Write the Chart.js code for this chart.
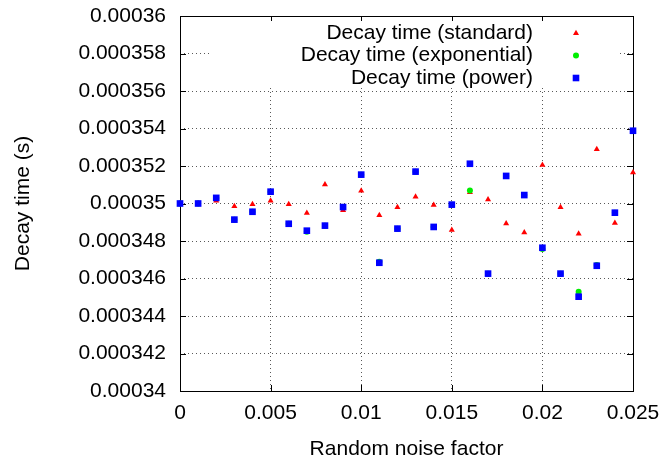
<!DOCTYPE html>
<html>
  <head>
    <meta charset="utf-8" />
    <title>Decay time vs random noise factor</title>
    <script src="https://cdn.jsdelivr.net/npm/chart.js@4"></script>
    <style>
      body { margin: 0; background: #fff; }
    </style>
  </head>
  <body>
    <div style="width: 667px; height: 464px">
      <canvas id="decayCanvas" width="667" height="464"></canvas>
    </div>
    <script>
      // noise factor on the x axis
      const noise = [
        0, 0.001, 0.002, 0.003, 0.004, 0.005, 0.006, 0.007, 0.008, 0.009,
        0.01, 0.011, 0.012, 0.013, 0.014, 0.015, 0.016, 0.017, 0.018, 0.019,
        0.02, 0.021, 0.022, 0.023, 0.024, 0.025,
      ];
      const standardDecay = [
        0.00035, 0.00035, 0.00035015, 0.00034985, 0.00034996, 0.00035015,
        0.00034996, 0.00034949, 0.00035102, 0.00034964, 0.00035068, 0.00034937,
        0.0003498, 0.00035036, 0.00034992, 0.00034859, 0.0003506, 0.00035022,
        0.00034894, 0.00034846, 0.00035205, 0.0003498, 0.00034839, 0.00035289,
        0.00034896, 0.00035166,
      ];
      const exponentialDecay = [
        0.00035, 0.00035, 0.0003503, 0.00034914, 0.00034956, 0.00035063,
        0.00034892, 0.0003485, 0.00034882, 0.00034981, 0.00035154, 0.0003469,
        0.00034866, 0.0003517, 0.00034875, 0.00034994, 0.0003507, 0.00034626,
        0.00035147, 0.00035045, 0.00034758, 0.00034626, 0.0003453, 0.00034672,
        0.00034951, 0.00035388,
      ];
      const powerDecay = [
        0.00035, 0.00035, 0.0003503, 0.00034914, 0.00034956, 0.00035063,
        0.00034892, 0.00034855, 0.00034882, 0.00034981, 0.00035154, 0.00034684,
        0.00034866, 0.0003517, 0.00034875, 0.00034994, 0.00035212, 0.00034626,
        0.00035147, 0.00035045, 0.00034764, 0.00034626, 0.00034503, 0.00034668,
        0.00034951, 0.00035388,
      ];
      const seriesLabels = [
        "Decay time (standard)",
        "Decay time (exponential)",
        "Decay time (power)",
      ];

      const FONT = "'Liberation Sans', Arial, Helvetica, sans-serif";

      function toPoints(ys) {
        return noise.map((x, i) => ({ x: x, y: ys[i] }));
      }

      function fmt(v) {
        return String(parseFloat(v.toPrecision(6)));
      }

      function drawMarker(ctx, style, x, y, color) {
        ctx.fillStyle = color;
        ctx.beginPath();
        if (style === "triangle") {
          ctx.moveTo(x, y - 3.2);
          ctx.lineTo(x + 3, y + 2);
          ctx.lineTo(x - 3, y + 2);
        } else if (style === "circle") {
          ctx.arc(x, y, 3, 0, Math.PI * 2);
        } else {
          ctx.rect(x - 3.3, y - 3.3, 6.6, 6.6);
        }
        ctx.closePath();
        ctx.fill();
      }

      // gnuplot-like frame: white key box, border and inward ticks
      const framePlugin = {
        id: "frame",
        beforeDatasetsDraw(chart) {
          const ctx = chart.ctx;
          const a = chart.chartArea;
          ctx.save();

          // key box
          ctx.fillStyle = "#fff";
          ctx.fillRect(a.left + 29, a.top + 1, a.right - a.left - 44, 71);
          ctx.font = "21px " + FONT;
          ctx.textAlign = "right";
          ctx.textBaseline = "middle";
          const rowY = [a.top + 17, a.top + 39.5, a.top + 62];
          chart.data.datasets.forEach((ds, i) => {
            ctx.fillStyle = "#000";
            ctx.fillText(ds.label, a.right - 100, rowY[i]);
            drawMarker(ctx, ds.pointStyle, a.right - 57, rowY[i], ds.backgroundColor);
          });

          // border
          ctx.strokeStyle = "#000";
          ctx.lineWidth = 1;
          ctx.strokeRect(
            Math.round(a.left) + 0.5,
            Math.round(a.top) + 0.5,
            Math.round(a.right - a.left),
            Math.round(a.bottom - a.top)
          );

          // inward ticks
          const xs = chart.scales.x;
          const ys = chart.scales.y;
          ctx.beginPath();
          xs.ticks.forEach((t) => {
            const px = Math.round(xs.getPixelForValue(t.value)) + 0.5;
            ctx.moveTo(px, a.bottom);
            ctx.lineTo(px, a.bottom - 6);
            ctx.moveTo(px, a.top);
            ctx.lineTo(px, a.top + 5);
          });
          ys.ticks.forEach((t) => {
            const py = Math.round(ys.getPixelForValue(t.value)) + 0.5;
            ctx.moveTo(a.left, py);
            ctx.lineTo(a.left + 6, py);
            ctx.moveTo(a.right, py);
            ctx.lineTo(a.right - 6, py);
          });
          ctx.stroke();
          ctx.restore();
        },
      };

      const ctx = document.getElementById("decayCanvas").getContext("2d");
      const decayChart = new Chart(ctx, {
        type: "scatter",
        data: {
          datasets: [
            {
              label: seriesLabels[0],
              data: toPoints(standardDecay),
              pointStyle: "triangle",
              pointRadius: 3.5,
              backgroundColor: "#ff0000",
              borderWidth: 0,
              order: 2,
              clip: false,
            },
            {
              label: seriesLabels[1],
              data: toPoints(exponentialDecay),
              pointStyle: "circle",
              pointRadius: 3,
              backgroundColor: "#00ee00",
              borderWidth: 0,
              order: 1,
              clip: false,
            },
            {
              label: seriesLabels[2],
              data: toPoints(powerDecay),
              pointStyle: "rect",
              pointRadius: 4.7,
              backgroundColor: "#0000ff",
              borderWidth: 0,
              order: 0,
              clip: false,
            },
          ],
        },
        options: {
          responsive: false,
          animation: false,
          events: [],
          layout: { padding: { top: 16, right: 34, left: 0, bottom: 0 } },
          plugins: {
            legend: { display: false },
            tooltip: { enabled: false },
          },
          scales: {
            x: {
              type: "linear",
              min: 0,
              max: 0.025,
              afterFit: (scale) => {
                scale.height = 73;
              },
              grid: {
                drawTicks: true,
                tickLength: 10,
                tickColor: "rgba(0,0,0,0)",
                color: "rgba(0,0,0,0.65)",
              },
              border: { display: false, dash: [1, 3] },
              ticks: {
                stepSize: 0.005,
                padding: 0,
                color: "#000",
                font: { family: FONT, size: 21 },
                maxRotation: 0,
                callback: (v) => fmt(v),
              },
              title: {
                display: true,
                text: "Random noise factor",
                color: "#000",
                font: { family: FONT, size: 21 },
                padding: { top: 0, bottom: 2 },
              },
            },
            y: {
              type: "linear",
              min: 0.00034,
              max: 0.00036,
              afterFit: (scale) => {
                scale.width = 180;
              },
              grid: {
                drawTicks: true,
                tickLength: 14,
                tickColor: "rgba(0,0,0,0)",
                color: "rgba(0,0,0,0.65)",
              },
              border: { display: false, dash: [1, 3] },
              ticks: {
                stepSize: 0.000002,
                padding: 0,
                color: "#000",
                font: { family: FONT, size: 21 },
                callback: (v) => fmt(v),
              },
              title: {
                display: true,
                text: "Decay time (s)",
                color: "#000",
                font: { family: FONT, size: 21 },
                padding: { top: 11, bottom: 0 },
              },
            },
          },
        },
        plugins: [framePlugin],
      });
    </script>
  </body>
</html>
